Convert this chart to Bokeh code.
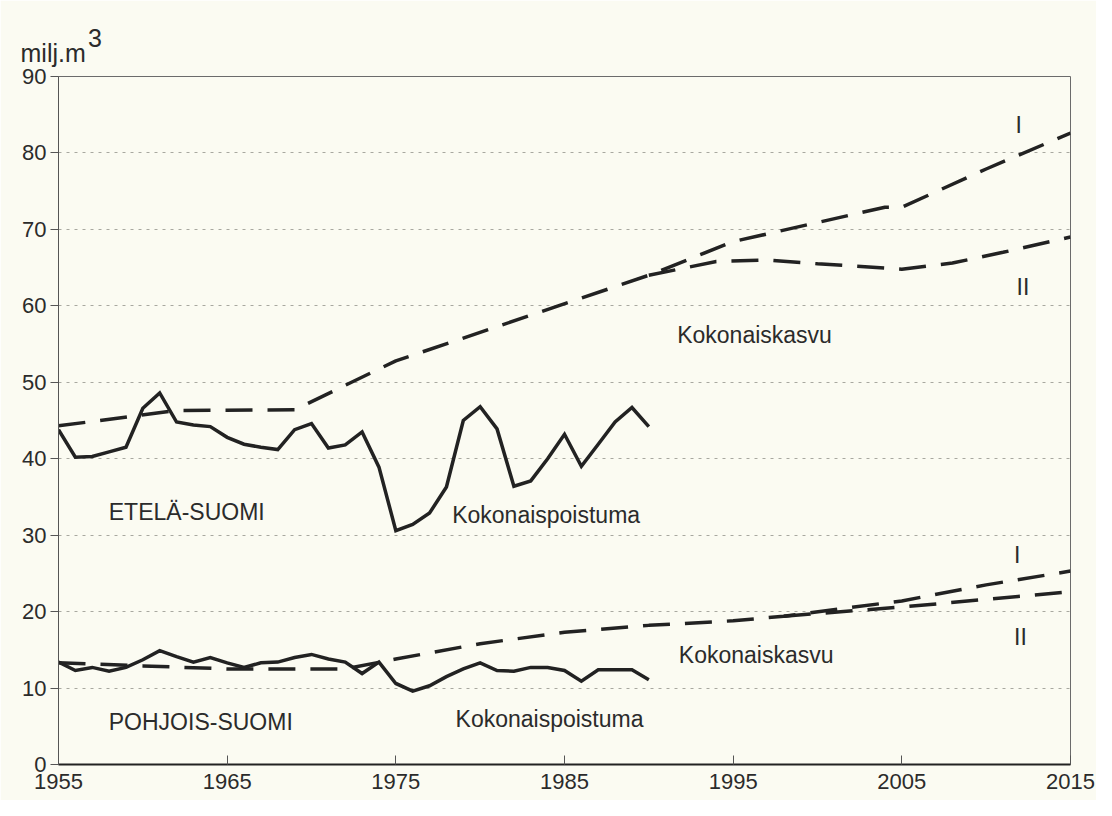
from bokeh.plotting import figure
from bokeh.models import FixedTicker, Label, Range1d, Title
from bokeh.embed import file_html
from bokeh.resources import INLINE

# ---------------- data ----------------
years_poistuma = list(range(1955, 1991))
etela_poistuma = [43.8, 40.2, 40.3, 40.9, 41.5, 46.6, 48.6, 44.8, 44.4, 44.2,
                  42.8, 41.9, 41.5, 41.2, 43.8, 44.6, 41.4, 41.8, 43.5, 38.9,
                  30.6, 31.4, 32.9, 36.3, 45.0, 46.8, 43.9, 36.4, 37.1, 40.0,
                  43.2, 39.0, 41.9, 44.8, 46.7, 44.2]
pohjois_poistuma = [13.4, 12.3, 12.7, 12.2, 12.7, 13.7, 14.9, 14.1, 13.4, 14.0,
                    13.3, 12.7, 13.3, 13.4, 14.0, 14.4, 13.8, 13.4, 11.9, 13.4,
                    10.6, 9.6, 10.3, 11.5, 12.5, 13.3, 12.3, 12.2, 12.7, 12.7,
                    12.3, 10.9, 12.4, 12.4, 12.4, 11.1]

etela_kasvu_years = [1955, 1962, 1969, 1975, 1990]
etela_kasvu = [44.3, 46.3, 46.4, 52.8, 64.0]
etela_kasvu_I_years = [1990, 1995, 2000, 2004, 2005, 2010, 2015]
etela_kasvu_I = [64.0, 68.4, 70.9, 72.9, 72.9, 77.9, 82.6]
etela_kasvu_II_years = [1990, 1994, 1997, 2000, 2005, 2008, 2011, 2015]
etela_kasvu_II = [64.0, 65.8, 66.0, 65.5, 64.8, 65.6, 67.0, 69.0]

pohjois_kasvu_years = [1955, 1960, 1965, 1972, 1975, 1980, 1985, 1990, 1995, 1998]
pohjois_kasvu = [13.3, 12.9, 12.5, 12.5, 13.8, 15.8, 17.3, 18.2, 18.8, 19.4]
pohjois_kasvu_I_years = [1998, 2005, 2010, 2015]
pohjois_kasvu_I = [19.4, 21.4, 23.5, 25.3]
pohjois_kasvu_II_years = [1998, 2005, 2010, 2015]
pohjois_kasvu_II = [19.4, 20.6, 21.6, 22.6]

x_ticks = [1955, 1965, 1975, 1985, 1995, 2005, 2015]
y_ticks = [0, 10, 20, 30, 40, 50, 60, 70, 80, 90]

# ---------------- styling ----------------
BG = "#fbfbf2"
INK = "#222222"
FONT = "Liberation Sans"
TXT = "#2b2b2b"

p = figure(frame_width=1012, frame_height=688, title=None,
           x_range=Range1d(1955, 2015), y_range=Range1d(0, 90),
           output_backend="svg", toolbar_location=None,
           min_border_left=58, min_border_right=26,
           min_border_top=76, min_border_bottom=36)

p.background_fill_color = BG
p.border_fill_color = BG
p.outline_line_color = "#6b6b6b"
p.outline_line_width = 1

p.xgrid.visible = False
p.ygrid.grid_line_color = "#a8a8a0"
p.ygrid.grid_line_dash = "3 5"
p.ygrid.grid_line_width = 1

p.xaxis.ticker = FixedTicker(ticks=x_ticks)
p.yaxis.ticker = FixedTicker(ticks=y_ticks)
for ax in (p.xaxis, p.yaxis):
    ax.minor_tick_line_color = None
    ax.major_label_text_font = FONT
    ax.major_label_text_font_size = "22px"
    ax.major_label_text_color = TXT
    ax.major_tick_line_color = "#555555"

p.xaxis.axis_line_color = INK
p.xaxis.axis_line_width = 2
p.xaxis.major_tick_in = 9
p.xaxis.major_tick_out = 0
p.xaxis.major_label_standoff = 9

p.yaxis.axis_line_color = "#555555"
p.yaxis.axis_line_width = 1
p.yaxis.major_tick_in = 0
p.yaxis.major_tick_out = 8
p.yaxis.major_label_standoff = 4

DASH = "27 15"
LW = 3.5

# ETELÄ-SUOMI
p.line(years_poistuma, etela_poistuma, line_color=INK, line_width=LW, line_join="miter")
p.line(etela_kasvu_years + etela_kasvu_I_years[1:], etela_kasvu + etela_kasvu_I[1:],
       line_color=INK, line_width=LW, line_dash=DASH)
p.line(etela_kasvu_II_years, etela_kasvu_II, line_color=INK, line_width=LW, line_dash=DASH)

# POHJOIS-SUOMI
p.line(years_poistuma, pohjois_poistuma, line_color=INK, line_width=LW, line_join="miter")
p.line(pohjois_kasvu_years + pohjois_kasvu_I_years[1:], pohjois_kasvu + pohjois_kasvu_I[1:],
       line_color=INK, line_width=LW, line_dash=DASH)
p.line(pohjois_kasvu_II_years, pohjois_kasvu_II, line_color=INK, line_width=LW, line_dash=DASH)

# ---------------- texts ----------------
def txt(x, y, s, size="23px", align="left"):
    p.add_layout(Label(x=x, y=y, text=s, text_font=FONT, text_font_size=size,
                       text_color=TXT, text_align=align, text_baseline="alphabetic"))

txt(1957.98, 33.0, "ETELÄ-SUOMI")
txt(1978.34, 32.6, "Kokonaispoistuma")
txt(1991.68, 56.15, "Kokonaiskasvu")
txt(2011.93, 83.6, "I", align="center")
txt(2012.18, 62.47, "II", align="center")
txt(2011.84, 27.36, "I", align="center")
txt(2012.03, 16.66, "II", align="center")
txt(1991.78, 14.27, "Kokonaiskasvu")
txt(1957.98, 5.54, "POHJOIS-SUOMI")
txt(1978.54, 5.98, "Kokonaispoistuma")

# unit label above the axis: "milj.m" with a raised "3"
unit_text = "\u00a0" * 9 + "\u2009" + "3" + "\n" + "milj.m"
p.add_layout(Title(text=unit_text, align="left", offset=-38, standoff=18,
                   text_font=FONT, text_font_size="25px", text_font_style="normal",
                   text_line_height=0.55, text_color=TXT), "above")

open("out.html", "w").write(file_html(p, INLINE))
